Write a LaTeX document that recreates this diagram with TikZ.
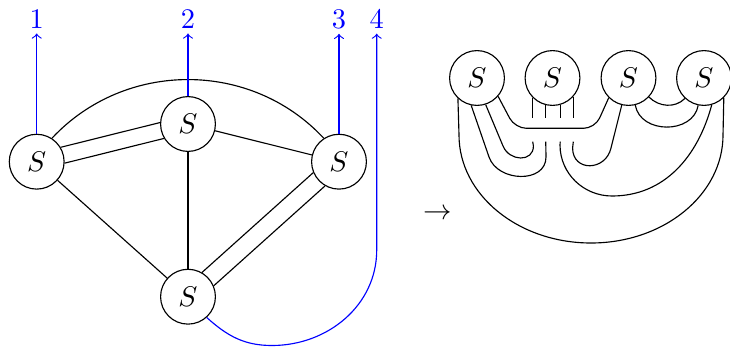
\documentclass[tikz,border=0pt]{standalone}
\begin{document}
\begin{tikzpicture}[x=0.352pt,y=0.352pt,
  vertex/.style={circle,draw,minimum size=19.3pt,inner sep=0pt},
  leg/.style={blue,->},
  legno/.style={blue,inner sep=1.5pt}]
\useasboundingbox (0,-348) rectangle (730,0);

% ---- graph on the left ----
\node[vertex] (A) at (36.7,-161.7) {$S$};
\node[vertex] (B) at (188,-124) {$S$};
\node[vertex] (C) at (339,-161.7) {$S$};
\node[vertex] (D) at (188,-296.7) {$S$};

\node[legno] (l1) at (36.7,-19.2) {1};
\node[legno] (l2) at (188,-19.2) {2};
\node[legno] (l3) at (339,-19.2) {3};
\node[legno] (l4) at (376.7,-19.2) {4};

\draw (A.57) .. controls (125,-60) and (251,-60) .. (C.123);
\draw (A.31) -- (B.177);
\draw (A.-3) -- (B.211);
\draw (B) -- (C);
\draw (A) -- (D);
\draw (B) -- (D);
\draw (D.60) -- (C.203);
\draw (D.23) -- (C.240);

\draw[leg] (A.north) -- (l1.south);
\draw[leg] (B.north) -- (l2.south);
\draw[leg] (C.north) -- (l3.south);
\draw[leg] (D.-48) to[out=-42,in=180] (272,-345.5)
  to[out=0,in=-90] (376.7,-250) -- (l4.south);

% ---- arrow between the two pictures ----
\node (arr) at (437.5,-214) {$\to$};

% ---- strand picture on the right ----
\node[vertex] (R1) at (477,-78) {$S$};
\node[vertex] (R2) at (552.5,-78) {$S$};
\node[vertex] (R3) at (628.5,-78) {$S$};
\node[vertex] (R4) at (704,-78) {$S$};

\coordinate (cut) at (0,-118.3);
\coordinate (resume) at (0,-141.7);
\coordinate (s1) at (R2.-135 |- resume);
\coordinate (s2) at (R2.-104 |- resume);
\coordinate (s3) at (R2.-74 |- resume);
\coordinate (s4) at (R2.-42 |- resume);

% short legs under the second vertex
\draw (R2.-135) -- (R2.-135 |- cut);
\draw (R2.-104) -- (R2.-104 |- cut);
\draw (R2.-74) -- (R2.-74 |- cut);
\draw (R2.-42) -- (R2.-42 |- cut);

% outer arc
\draw (R1.-133) -- (459,-135)
  arc[start angle=180,end angle=360,x radius=132,y radius=108] -- (R4.-45);
% two nested hooks from the first vertex
\draw (R1.-102) -- (489,-157) to[out=-71,in=-90,looseness=1.2] (546,-157) -- (s2);
\draw (R1.-72) -- (503,-146) to[out=-68,in=-90,looseness=1.4] (533.4,-146) -- (s1);
% bar passing under the second vertex
\draw[rounded corners=4pt] (R1.-41) -- (515,-128.3) -- (595,-128.3) -- (R3.-135);
% hooks from the third and fourth vertex
\draw (R3.-104) -- (611,-148) to[out=-103,in=-90,looseness=1.6] (572.6,-148) -- (s4);
\draw (s3) -- (560,-145) to[out=-90,in=180] (612,-196)
  to[out=0,in=-105] (R4.-74);
% arcs between the third and fourth vertex
\draw (R3.-43) to[out=-45,in=-135] (R4.-133);
\draw (R3.-76) to[out=-80,in=-100,looseness=1.2] (R4.-102);
\end{tikzpicture}
\end{document}
